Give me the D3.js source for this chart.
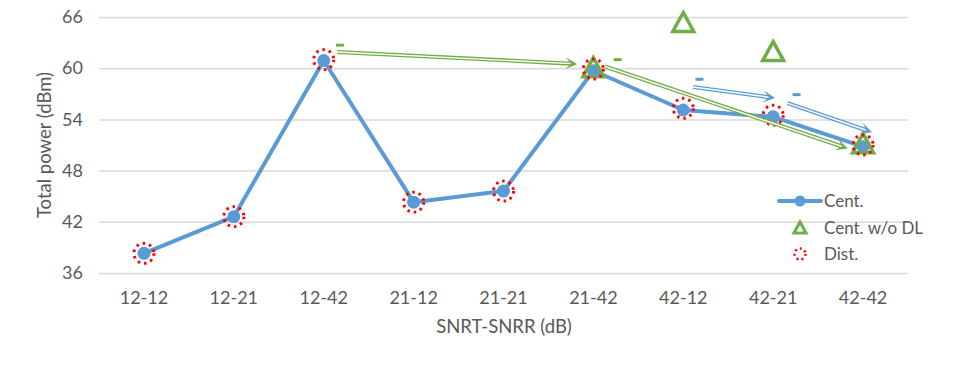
<!DOCTYPE html>
<html>
<head>
<meta charset="utf-8">
<script src="https://cdn.jsdelivr.net/npm/d3@7"></script>
<style>
  body { margin: 0; background: #fff; }
  text { font-family: Lato, "Open Sans", sans-serif; fill: #595959; }
</style>
</head>
<body>
<div id="chart"></div>
<script>
const categories = ["12-12", "12-21", "12-42", "21-12", "21-21", "21-42", "42-12", "42-21", "42-42"];
const yTicks = [36, 42, 48, 54, 60, 66];
const centValues = [38.3, 42.6, 60.9, 44.3, 45.6, 59.7, 55.1, 54.3, 50.8];
const centNoDlValues = [null, null, null, null, null, 60.0, 65.3, 61.9, 51.1];
const distValues = [38.3, 42.6, 61.0, 44.3, 45.6, 59.9, 55.3, 54.5, 51.0];
// annotation arrows: [fromIndex, fromValue, toIndex, toValue, colour]
const arrows = [
    [2.15, 61.9, 4.82, 60.5, "#70AD47"],
    [5.13, 60.2, 7.83, 50.6, "#70AD47"],
    [6.11, 57.8, 7.02, 56.5, "#5B9BD5"],
    [7.16, 55.9, 8.10, 52.5, "#5B9BD5"]
];
// small "-" marks: [index, value, colour]
const dashes = [
    [2.18, 62.7, "#70AD47"],
    [5.27, 61.0, "#70AD47"],
    [6.18, 58.7, "#5B9BD5"],
    [7.26, 56.9, "#5B9BD5"]
];
const legendItems = ["Cent.", "Cent. w/o DL", "Dist."];

const width = 975, height = 375;
const blue = "#5B9BD5", green = "#70AD47", red = "#FF0000";

const svg = d3.select("#chart").append("svg")
    .attr("width", width)
    .attr("height", height);

const x = d3.scaleBand().domain(categories).range([99, 908]);
const y = d3.scaleLinear().domain([36, 66]).range([273, 17]);
const xi = i => x(categories[0]) + x.bandwidth() / 2 + i * x.step();

// gridlines + y labels
const yAxis = svg.append("g")
    .attr("transform", "translate(99,0)")
    .call(d3.axisLeft(y).tickValues(yTicks).tickSize(-809).tickPadding(16))
    .call(g => g.select(".domain").remove());
yAxis.selectAll(".tick line").attr("stroke", "#d9d9d9").attr("stroke-width", 1.5);
yAxis.selectAll(".tick text").attr("font-size", 18).attr("fill", "#595959");

// x labels
const xAxis = svg.append("g")
    .attr("transform", "translate(0,273)")
    .call(d3.axisBottom(x).tickSize(0).tickPadding(18))
    .call(g => g.select(".domain").remove());
xAxis.selectAll(".tick text").attr("font-size", 18).attr("fill", "#595959");

// axis titles
svg.append("text")
    .attr("x", 504).attr("y", 333)
    .attr("text-anchor", "middle")
    .attr("font-size", 18.5)
    .text("SNRT-SNRR (dB)");
svg.append("text")
    .attr("transform", "translate(51,145) rotate(-90)")
    .attr("text-anchor", "middle")
    .attr("font-size", 18.5)
    .text("Total power (dBm)");

// Cent. line
const line = d3.line()
    .x((d, i) => x(categories[i]) + x.bandwidth() / 2)
    .y(d => y(d));
svg.append("path")
    .datum(centValues)
    .attr("fill", "none")
    .attr("stroke", blue)
    .attr("stroke-width", 4)
    .attr("stroke-linejoin", "round")
    .attr("d", line);
svg.selectAll(".cent").data(centValues).join("circle")
    .attr("cx", (d, i) => x(categories[i]) + x.bandwidth() / 2)
    .attr("cy", d => y(d))
    .attr("r", 6.5)
    .attr("fill", blue);

// Cent. w/o DL triangles
const tri = (cx, cy, s) => `M${cx},${cy - s * 0.55}L${cx + s * 0.55},${cy + s * 0.45}L${cx - s * 0.55},${cy + s * 0.45}Z`;
svg.selectAll(".tri").data(centNoDlValues.map((v, i) => [i, v]).filter(d => d[1] != null)).join("path")
    .attr("d", d => tri(xi(d[0]), y(d[1]), 19))
    .attr("fill", "none")
    .attr("stroke", green)
    .attr("stroke-width", 3.5);

// Dist. dotted circles
svg.selectAll(".dist").data(distValues).join("circle")
    .attr("cx", (d, i) => x(categories[i]) + x.bandwidth() / 2)
    .attr("cy", d => y(d))
    .attr("r", 10)
    .attr("fill", "none")
    .attr("stroke", red)
    .attr("stroke-width", 3)
    .attr("stroke-dasharray", "2.5,4");

// annotation arrows (double lines)
arrows.forEach(([i0, v0, i1, v1, c]) => {
    const x0 = xi(i0), y0 = y(v0), x1 = xi(i1), y1 = y(v1);
    const ang = Math.atan2(y1 - y0, x1 - x0);
    const ux = Math.cos(ang), uy = Math.sin(ang);
    const g = svg.append("g");
    const xe = x1 - ux * 6, ye = y1 - uy * 6;
    g.append("line").attr("x1", x0).attr("y1", y0).attr("x2", xe).attr("y2", ye)
        .attr("stroke", c).attr("stroke-width", 4);
    g.append("line").attr("x1", x0).attr("y1", y0).attr("x2", xe).attr("y2", ye)
        .attr("stroke", "#fff").attr("stroke-width", 1.4);
    const hl = 12, hw = 6;
    const bx = x1 - ux * hl, by = y1 - uy * hl;
    g.append("path")
        .attr("d", `M${bx - uy * hw},${by + ux * hw}L${x1},${y1}L${bx + uy * hw},${by - ux * hw}L${x1 - ux * 6},${y1 - uy * 6}Z`)
        .attr("fill", c);
});

// "-" marks
svg.selectAll(".dash").data(dashes).join("rect")
    .attr("x", d => xi(d[0]) - 4)
    .attr("y", d => y(d[1]) - 1.5)
    .attr("width", 8).attr("height", 3)
    .attr("fill", d => d[2]);

// legend
const lg = svg.append("g");
const ly = [201, 228, 254];
lg.append("line").attr("x1", 779).attr("x2", 821).attr("y1", ly[0]).attr("y2", ly[0])
    .attr("stroke", blue).attr("stroke-width", 4).attr("stroke-linecap", "round");
lg.append("circle").attr("cx", 800).attr("cy", ly[0]).attr("r", 5.5).attr("fill", blue);
lg.append("path").attr("d", tri(800, ly[1], 11)).attr("fill", "none")
    .attr("stroke", green).attr("stroke-width", 3);
lg.append("circle").attr("cx", 800).attr("cy", ly[2]).attr("r", 5.5).attr("fill", "none")
    .attr("stroke", red).attr("stroke-width", 2.5).attr("stroke-dasharray", "2,3");
lg.selectAll("text").data(legendItems).join("text")
    .attr("x", 824)
    .attr("y", (d, i) => ly[i] + 6)
    .attr("font-size", 17)
    .text(d => d);
</script>
</body>
</html>
